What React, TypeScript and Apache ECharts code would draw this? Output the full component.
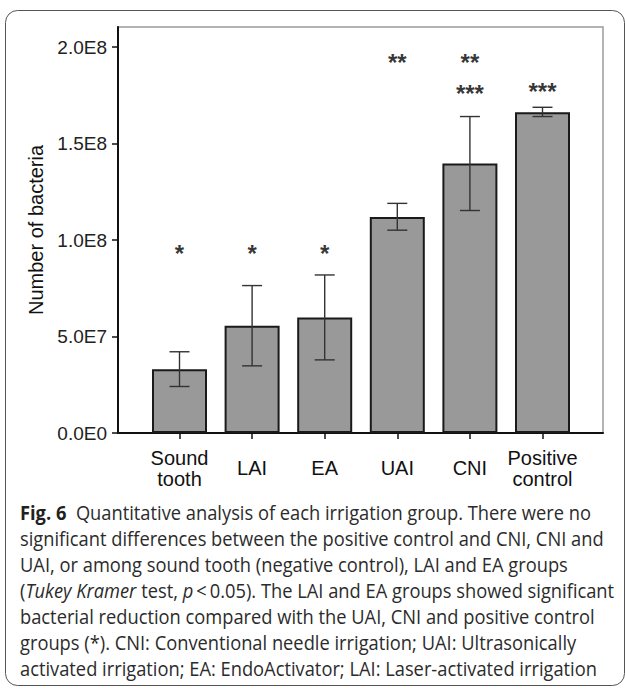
import React, { useEffect, useRef } from 'react';
import * as echarts from 'echarts';

const categories = ['Sound\ntooth', 'LAI', 'EA', 'UAI', 'CNI', 'Positive\ncontrol'];
const meanValues = [3.31e7, 5.56e7, 5.99e7, 1.12e8, 1.397e8, 1.662e8];
const errLower = [2.41e7, 3.48e7, 3.79e7, 1.051e8, 1.153e8, 1.64e8];
const errUpper = [4.21e7, 7.64e7, 8.19e7, 1.19e8, 1.64e8, 1.688e8];
const starCategory = [0, 1, 2, 3, 4, 4, 5];
const starLevel = [9.5e7, 9.5e7, 9.5e7, 1.94e8, 1.94e8, 1.78e8, 1.79e8];
const starText = ['*', '*', '*', '**', '**', '***', '***'];
const yTickValues = [0, 5e7, 1e8, 1.5e8, 2e8];
const yTickLabels = ['0.0E0', '5.0E7', '1.0E8', '1.5E8', '2.0E8'];
const yMax = 2.104e8;
const yTitle = 'Number of bacteria';
const captionLines = [
  '{b|Fig. 6}  Quantitative analysis of each irrigation group. There were no',
  'significant differences between the positive control and CNI, CNI and',
  'UAI, or among sound tooth (negative control), LAI and EA groups',
  '({i|Tukey Kramer} test, {i|p}\u2009<\u20090.05). The LAI and EA groups showed significant',
  'bacterial reduction compared with the UAI, CNI and positive control',
  'groups (*). CNI: Conventional needle irrigation; UAI: Ultrasonically',
  'activated irrigation; EA: EndoActivator; LAI: Laser-activated irrigation',
];

const ARIAL = 'Liberation Sans';
const CAPTION_FONT = 'Open Sans';

export default function App() {
  const ref = useRef<HTMLDivElement>(null);
  useEffect(() => {
    if (!ref.current) return;
    const chart = echarts.init(ref.current, undefined, { renderer: 'svg' });
    const gridTop = 27;
    const gridBottom = 689 - 433;
    const catWidth = (542.5 - 179.5) / 5;
    const g1Left = 179.5 - catWidth / 2;
    const g1Width = catWidth * 6;

    const labelMap: Record<string, string> = {};
    yTickValues.forEach((v, i) => (labelMap[String(v)] = yTickLabels[i]));

    const capSize = 20;
    const captionGraphics = captionLines.map((line, i) => ({
      type: 'text',
      x: 20,
      y: 513 + i * 26,
      scaleX: 0.915,
      style: {
        text: line,
        fontSize: capSize,
        fontFamily: CAPTION_FONT,
        fill: '#2b2b2b',
        verticalAlign: 'middle',
        align: 'left',
        rich: {
          b: { fontWeight: 'bold', fontSize: capSize, fontFamily: CAPTION_FONT, fill: '#231f20' },
          i: { fontStyle: 'italic', fontSize: capSize, fontFamily: CAPTION_FONT, fill: '#2b2b2b' },
        },
      },
    }));

    chart.setOption({
      animation: false,
      backgroundColor: '#ffffff',
      grid: [
        { left: 118, right: 625 - 603, top: gridTop, bottom: gridBottom, show: true, borderColor: '#9a9a9a', borderWidth: 1.5, backgroundColor: 'transparent' },
        { left: g1Left, width: g1Width, top: gridTop, bottom: gridBottom },
      ],
      xAxis: [
        {
          type: 'value', gridIndex: 0, min: 0, max: 1,
          axisLine: { show: true, lineStyle: { color: '#111', width: 2 } },
          axisTick: { show: false }, axisLabel: { show: false }, splitLine: { show: false },
        },
        {
          type: 'category', gridIndex: 1, data: categories,
          axisLine: { show: false },
          axisTick: { show: true, alignWithLabel: true, length: 6, lineStyle: { color: '#111', width: 1.5 } },
          axisLabel: { fontSize: 20, fontFamily: ARIAL, color: '#111', verticalAlign: 'middle', margin: 35, lineHeight: 21, interval: 0 },
          splitLine: { show: false },
        },
      ],
      yAxis: [
        {
          type: 'value', gridIndex: 0, min: 0, max: yMax, interval: 5e7,
          axisLine: { show: true, lineStyle: { color: '#111', width: 2 } },
          axisTick: { show: true, length: 6, customValues: yTickValues, lineStyle: { color: '#111', width: 1.5 } },
          axisLabel: {
            customValues: yTickValues,
            fontSize: 19, fontFamily: ARIAL, color: '#222', margin: 11,
            formatter: (v: number) => labelMap[String(v)] ?? '',
          },
          splitLine: { show: false },
          name: yTitle, nameLocation: 'middle', nameGap: 71,
          nameTextStyle: { fontSize: 20, fontFamily: ARIAL, color: '#111' },
        },
        { type: 'value', gridIndex: 1, min: 0, max: yMax, show: false },
      ],
      series: [
        {
          type: 'bar', xAxisIndex: 1, yAxisIndex: 1, data: meanValues, barWidth: 55,
          itemStyle: { color: '#999999', borderColor: '#1a1a1a', borderWidth: 2 },
        },
        {
          type: 'custom', xAxisIndex: 1, yAxisIndex: 1,
          data: categories.map((_, i) => [i, errLower[i], errUpper[i]]),
          renderItem: (params: any, api: any) => {
            const x = api.value(0);
            const lo = api.coord([x, api.value(1)]);
            const hi = api.coord([x, api.value(2)]);
            const half = 10;
            const st = { stroke: '#333', lineWidth: 1.4 };
            return {
              type: 'group',
              children: [
                { type: 'line', shape: { x1: lo[0], y1: lo[1], x2: hi[0], y2: hi[1] }, style: st },
                { type: 'line', shape: { x1: lo[0] - half, y1: lo[1], x2: lo[0] + half, y2: lo[1] }, style: st },
                { type: 'line', shape: { x1: hi[0] - half, y1: hi[1], x2: hi[0] + half, y2: hi[1] }, style: st },
              ],
            };
          },
          z: 5,
        },
        {
          type: 'scatter', xAxisIndex: 1, yAxisIndex: 1, symbolSize: 1,
          itemStyle: { color: 'rgba(0,0,0,0)' },
          data: starCategory.map((c, i) => [c, starLevel[i], starText[i]]),
          label: {
            show: true, position: 'inside', offset: [0, 4],
            formatter: (p: any) => p.value[2],
            fontSize: 24, fontWeight: 'bold', fontFamily: ARIAL, color: '#000',
          },
        },
      ],
      graphic: [
        { type: 'rect', shape: { x: 5.5, y: 10.5, width: 619, height: 675, r: 12 }, style: { fill: 'none', stroke: '#555', lineWidth: 1 } },
        ...captionGraphics,
      ],
    });
    return () => chart.dispose();
  }, []);
  return <div ref={ref} style={{ position: 'absolute', left: 0, top: 0, width: 625, height: 689, background: '#fff' }} />;
}
